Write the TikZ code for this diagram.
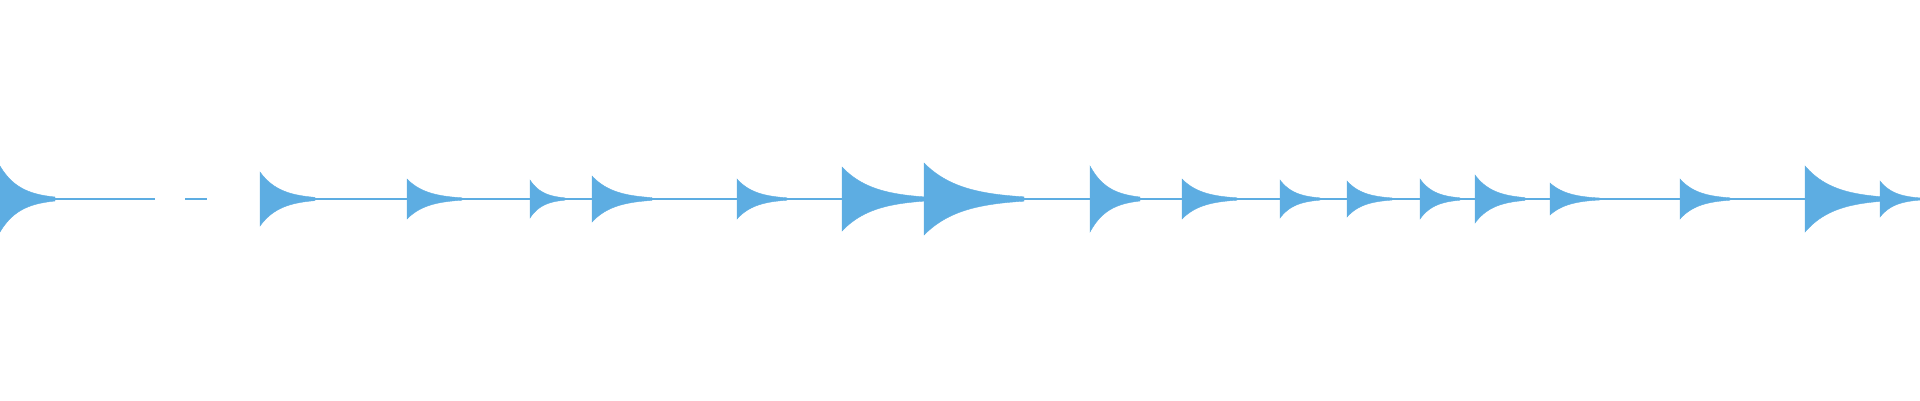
\documentclass[tikz,border=0pt]{standalone}
\usetikzlibrary{positioning}
\definecolor{wave}{RGB}{93,173,226}
\tikzset{envelope/.style={fill=wave,draw=wave,line width=0.4pt},
  baseline/.style={draw=wave,line width=1.2pt}}
\begin{document}
\begin{tikzpicture}[x=1pt,y=-1pt]
\useasboundingbox (0,0) rectangle (1920,400);

% centre line with its two gaps
\coordinate (l0) at (0,199);
\coordinate (l1) at (155,199);
\coordinate (l2) at (185,199);
\coordinate (l3) at (207,199);
\coordinate (l4) at (260,199);
\coordinate (l5) at (1920,199);
\draw[baseline] (l0) -- (l1) (l2) -- (l3) (l4) -- (l5);

% notes: onset / amplitude / length
\foreach \x/\a/\l in {0/33/55, 260/27/55, 407/20/55, 530/19/35, 592/23/60,
    737/20/50, 842/32/85, 924/36/100, 1090/33/50, 1182/20/55, 1280/19/40,
    1347/18/45, 1420/20/40, 1475/24/50, 1550/16/50, 1680/20/50, 1805/33/80,
    1880/18/40}
  \fill[envelope] (\x,199)
    -- plot[variable=\t,domain=0:\l,samples=40,smooth] ({\x+\t},{199-\a*exp(-2.8*\t/\l)})
    -- plot[variable=\t,domain=\l:0,samples=40,smooth] ({\x+\t},{199+\a*exp(-2.8*\t/\l)})
    -- cycle;

\end{tikzpicture}
\end{document}
